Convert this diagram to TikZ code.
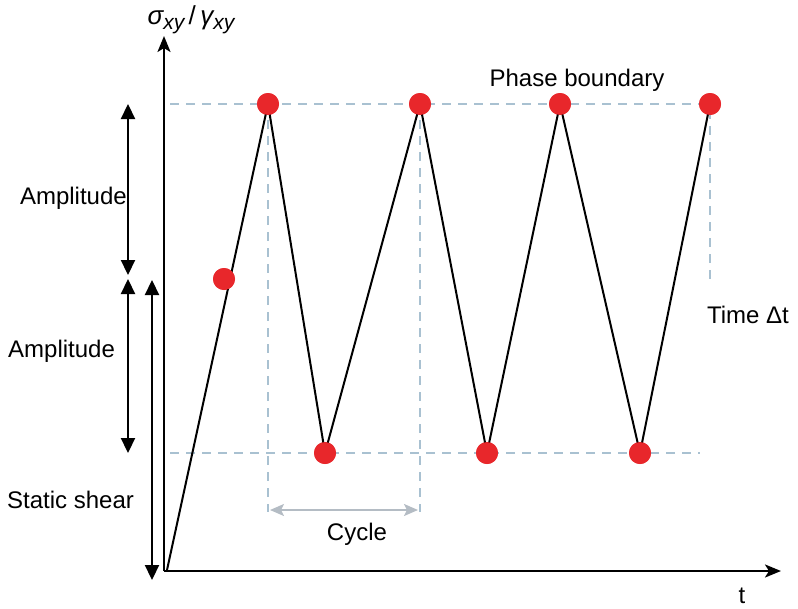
\documentclass[tikz,border=0pt]{standalone}
\usepackage{fontspec}
\setmainfont{Liberation Sans}
\usetikzlibrary{arrows.meta}
\definecolor{dotred}{HTML}{E8272B}
\definecolor{dashblue}{HTML}{A9C1D1}
\definecolor{cyclegray}{HTML}{B4BCC4}
\begin{document}
\begin{tikzpicture}[x=1pt,y=-1pt,
  dot/.style={circle,fill=dotred,inner sep=0pt,minimum size=22pt},
  guide/.style={dashblue,line width=1.6pt,dash pattern=on 9pt off 7pt},
  axis/.style={line width=2.4pt,-{Stealth[length=16pt,width=13pt,inset=4pt]}},
  dim/.style={line width=2.2pt,{Triangle[length=15pt,width=14pt]}-{Triangle[length=15pt,width=14pt]}},
  lbl/.style={font=\fontsize{24}{28}\selectfont,inner sep=0pt}]
\useasboundingbox (0,0) rectangle (798,608);
% coordinates
\coordinate (O) at (164,571);
\coordinate (Z0) at (167,570);
\coordinate (ytop) at (164,36);
\coordinate (xend) at (781,571);
% guides
\coordinate (ga) at (170,104);
\coordinate (gb) at (712,104);
\coordinate (gc) at (170,453);
\coordinate (gd) at (700,453);
\draw[guide] (ga) -- (gb);
\draw[guide] (gc) -- (gd);
\coordinate (v1a) at (268,104); \coordinate (v1b) at (268,512);
\coordinate (v2a) at (420,104); \coordinate (v2b) at (420,512);
\coordinate (v3a) at (710,110); \coordinate (v3b) at (710,282);
\draw[guide] (v1a) -- (v1b);
\draw[guide] (v2a) -- (v2b);
\draw[guide] (v3a) -- (v3b);
% cycle arrow
\coordinate (c1) at (270,510); \coordinate (c2) at (418,510);
\draw[cyclegray,line width=2pt,{Stealth[length=14pt,width=12pt,inset=3pt]}-{Stealth[length=14pt,width=12pt,inset=3pt]}] (c1) -- (c2);
\node[lbl] (cyc) at (357,534) {Cycle};
% axes
\draw[axis] (O) -- (ytop);
\draw[axis] (O) -- (xend);
\node[lbl,font=\fontsize{26}{30}\selectfont\itshape] (ylab) at (191,20) {σ\raisebox{-0.35ex}{\fontsize{21}{24}\selectfont xy}\,\upshape/\,\itshape γ\raisebox{-0.35ex}{\fontsize{21}{24}\selectfont xy}};
\node[lbl] (tlab) at (742,596) {t};
% zigzag points
\node[dot] (p0) at (224,279) {};
\node[dot] (p1) at (268,104) {};
\node[dot] (p2) at (325,453) {};
\node[dot] (p3) at (420,104) {};
\node[dot] (p4) at (487,453) {};
\node[dot] (p5) at (560,104) {};
\node[dot] (p6) at (640,453) {};
\node[dot] (p7) at (710,104) {};
\draw[line width=2pt,line join=miter] (Z0) -- (p1.center) -- (p2.center) -- (p3.center) -- (p4.center) -- (p5.center) -- (p6.center) -- (p7.center);
\foreach \p in {p0,p1,p2,p3,p4,p5,p6,p7} \fill[dotred] (\p) circle (11pt);
% left dimension arrows
\coordinate (a1t) at (128,104); \coordinate (a1b) at (128,275);
\coordinate (a2t) at (128,279); \coordinate (a2b) at (128,453);
\coordinate (s1t) at (152,280); \coordinate (s1b) at (152,580);
\draw[dim] (a1t) -- (a1b);
\draw[dim] (a2t) -- (a2b);
\draw[dim] (s1t) -- (s1b);
\node[lbl,anchor=east] (amp1) at (127,198) {Amplitude};
\node[lbl,anchor=west] (amp2) at (8,351) {Amplitude};
\node[lbl,anchor=west] (stat) at (7,500) {Static shear};
\node[lbl] (phase) at (577,80) {Phase boundary};
\node[lbl] (dt) at (748,315) {Time Δt};
\end{tikzpicture}
\end{document}
